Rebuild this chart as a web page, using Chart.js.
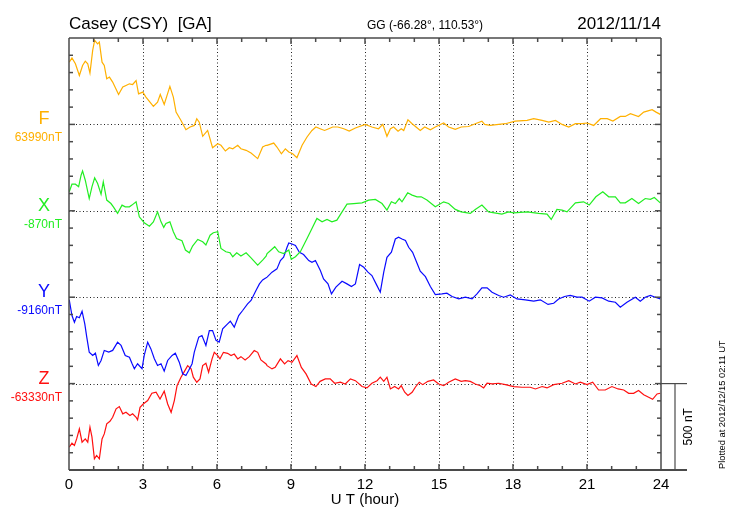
<!DOCTYPE html>
<html lang="en">
<head>
    <meta charset="UTF-8">
    <title>Casey (CSY) magnetogram</title>
    <script src="https://cdn.jsdelivr.net/npm/chart.js"></script>
    <style>
        html, body { margin: 0; padding: 0; background: #fff; }
        #wrap { width: 730px; height: 520px; }
    </style>
</head>
<body>
<div id="wrap"><canvas id="magChart" width="730" height="520"></canvas></div>
<script>
    // components, their offsets on the plot (nT) and the base values
    const components = ["F", "X", "Y", "Z"];
    const baseLabels = ["63990nT", "-870nT", "-9160nT", "-63330nT"];
    const offsets = [2000, 1500, 1000, 500];
    const colors = ["#ffb000", "#22ee22", "#0a0aff", "#ff1010"];
    const hourTicks = [0, 3, 6, 9, 12, 15, 18, 21, 24];

    // deviations from base value (nT) against UT hour
    const fHours = [0.01,0.12,0.26,0.42,0.55,0.66,0.76,0.85,0.96,1.04,1.16,1.23,1.34,1.43,1.53,1.64,1.77,2.01,2.18,2.31,2.45,2.58,2.72,2.82,2.99,3.12,3.42,3.59,3.70,3.86,4.09,4.23,4.34,4.54,4.74,4.91,5.08,5.18,5.28,5.42,5.62,5.82,6.03,6.16,6.34,6.50,6.64,6.84,6.97,7.18,7.38,7.65,7.85,7.99,8.03,8.30,8.43,8.61,8.77,8.91,9.07,9.24,9.45,9.65,9.85,10.01,10.18,10.36,10.53,10.69,10.90,11.14,11.36,11.61,12.01,12.28,12.55,12.72,12.89,13.03,13.16,13.34,13.47,13.57,13.74,13.91,14.07,14.24,14.42,14.65,14.85,15.19,15.39,15.66,15.90,16.20,16.47,16.74,16.85,17.08,17.42,17.69,18.09,18.57,18.84,19.18,19.45,19.72,19.99,20.26,20.53,20.80,21.00,21.27,21.55,21.82,22.05,22.35,22.55,22.76,23.09,23.30,23.64,23.80,23.97];
    const fValues = [360,385,351,283,341,366,351,297,428,486,466,476,360,341,264,274,245,173,216,225,235,231,254,177,187,158,104,129,173,116,220,158,71,23,-31,-15,-6,33,13,-69,-35,-135,-112,-121,-154,-135,-141,-121,-141,-150,-166,-198,-131,-121,-121,-108,-131,-170,-141,-160,-170,-193,-121,-73,-35,-15,-25,-35,-25,-15,-15,-25,-39,-21,0,-15,-25,0,-69,-25,-15,-39,-25,-35,27,4,-15,-35,-15,-31,-15,8,-15,-29,-15,-12,4,19,0,-6,0,4,19,23,33,23,13,23,0,-15,4,4,8,-6,33,33,19,46,46,62,46,71,85,71,58];

    const xHours = [0.01,0.12,0.26,0.39,0.49,0.55,0.66,0.82,0.93,1.04,1.16,1.30,1.39,1.53,1.70,1.80,1.97,2.15,2.28,2.45,2.55,2.72,2.85,3.05,3.26,3.42,3.59,3.73,3.84,3.93,4.09,4.23,4.36,4.58,4.72,4.88,5.01,5.22,5.42,5.55,5.72,5.85,6.03,6.16,6.36,6.53,6.64,6.80,6.97,7.18,7.38,7.65,7.85,7.99,8.03,8.16,8.34,8.50,8.70,8.91,9.01,9.18,9.38,9.65,9.85,10.05,10.26,10.46,10.66,10.86,11.07,11.27,11.54,11.88,12.15,12.42,12.69,12.89,13.07,13.23,13.39,13.50,13.73,13.91,14.11,14.28,14.51,14.85,15.19,15.39,15.66,15.90,16.27,16.47,16.74,17.01,17.55,17.82,18.03,18.57,19.04,19.38,19.55,19.78,19.99,20.19,20.53,20.86,21.09,21.36,21.64,21.88,22.15,22.35,22.55,22.82,23.09,23.36,23.57,23.73,23.97];
    const xValues = [110,154,154,139,206,231,177,71,139,191,158,96,168,62,42,23,-15,33,23,23,33,52,-35,-69,-89,-64,-6,-64,-96,-73,-64,-121,-160,-173,-227,-243,-204,-166,-179,-198,-141,-127,-121,-218,-237,-243,-266,-243,-262,-243,-272,-314,-285,-262,-247,-231,-208,-237,-247,-227,-281,-266,-237,-160,-102,-44,-64,-50,-64,-54,-6,39,42,46,62,66,42,4,52,42,71,52,104,91,81,81,62,23,52,42,8,-6,-15,8,33,-6,-19,-6,-12,-6,-15,-19,-50,8,4,-6,46,52,33,81,110,81,81,46,46,71,42,71,66,77,46];

    const yHours = [0.01,0.12,0.22,0.31,0.42,0.53,0.64,0.72,0.82,0.96,1.07,1.19,1.30,1.43,1.61,1.77,1.97,2.11,2.28,2.45,2.55,2.65,2.78,2.96,3.05,3.19,3.32,3.46,3.59,3.73,3.86,4.00,4.18,4.31,4.47,4.61,4.74,4.85,4.99,5.08,5.26,5.39,5.55,5.69,5.82,5.96,6.09,6.23,6.43,6.54,6.70,6.88,7.04,7.24,7.38,7.58,7.72,7.85,7.99,8.03,8.23,8.43,8.57,8.70,8.84,8.91,9.04,9.18,9.34,9.51,9.72,9.85,9.99,10.19,10.32,10.50,10.64,10.82,11.07,11.27,11.45,11.61,11.78,11.95,12.12,12.28,12.45,12.62,12.76,12.89,13.07,13.23,13.36,13.50,13.64,13.77,13.93,14.11,14.24,14.45,14.65,14.85,15.12,15.32,15.53,15.80,16.07,16.34,16.54,16.74,16.95,17.15,17.42,17.62,17.89,18.16,18.50,18.84,19.11,19.42,19.65,19.85,20.09,20.32,20.59,20.80,21.09,21.34,21.61,21.88,22.15,22.35,22.62,22.96,23.16,23.36,23.57,23.77,23.97];
    const yValues = [-15,-106,-145,-112,-119,-81,-154,-231,-318,-337,-324,-395,-366,-308,-318,-308,-260,-279,-337,-347,-382,-414,-385,-414,-337,-260,-299,-356,-395,-385,-428,-366,-337,-324,-376,-443,-453,-424,-385,-318,-231,-222,-279,-193,-193,-250,-260,-183,-154,-139,-173,-106,-77,-39,-19,39,77,100,112,116,145,164,212,231,289,314,308,299,260,247,212,202,212,154,106,77,19,58,92,77,62,77,189,173,145,125,77,29,145,231,260,337,347,337,328,289,260,197,150,119,62,15,19,23,4,-10,0,-10,19,54,54,29,10,0,13,-10,-15,-23,-15,-42,-35,-10,4,10,0,0,-23,0,-4,-23,-29,-58,-29,0,-23,0,10,0,-10];

    const zHours = [0.01,0.12,0.22,0.31,0.42,0.53,0.66,0.76,0.85,0.93,1.03,1.12,1.23,1.34,1.43,1.53,1.66,1.77,1.91,2.04,2.18,2.31,2.47,2.58,2.72,2.78,2.88,3.01,3.19,3.36,3.53,3.69,3.86,4.00,4.14,4.27,4.38,4.54,4.68,4.81,4.95,5.04,5.18,5.31,5.42,5.55,5.66,5.80,5.89,6.03,6.12,6.26,6.43,6.57,6.70,6.84,6.97,7.14,7.31,7.51,7.65,7.78,7.99,8.03,8.23,8.36,8.57,8.74,8.88,9.04,9.24,9.42,9.61,9.82,10.01,10.18,10.39,10.59,10.77,11.00,11.20,11.41,11.61,11.88,12.08,12.28,12.49,12.62,12.76,12.89,13.03,13.20,13.36,13.47,13.61,13.74,13.91,14.04,14.20,14.34,14.55,14.78,14.99,15.19,15.39,15.66,15.90,16.07,16.27,16.47,16.68,16.81,16.95,17.15,17.42,17.69,18.03,18.36,18.70,18.91,19.18,19.38,19.65,19.99,20.26,20.53,20.73,21.00,21.23,21.47,21.74,22.01,22.26,22.49,22.69,22.89,23.09,23.30,23.50,23.66,23.84,23.97];
    const zValues = [-368,-345,-358,-320,-262,-339,-320,-339,-252,-308,-435,-416,-435,-320,-291,-233,-218,-195,-146,-133,-175,-166,-185,-175,-195,-210,-137,-118,-98,-56,-50,-89,-44,-118,-166,-98,-12,37,71,104,85,37,8,27,104,118,66,143,181,162,143,181,175,162,171,143,156,137,156,191,181,137,114,104,85,94,143,114,133,123,162,94,56,-2,-17,13,27,27,2,8,-2,27,17,-17,-25,2,17,37,13,37,-31,-17,-31,-12,-50,-69,-50,-21,8,-6,13,21,-2,-12,8,27,13,17,13,-2,-12,-25,2,-2,2,-6,-17,-21,-21,-31,-17,-25,-6,2,17,-2,8,-6,8,-37,-37,-17,-31,-37,-56,-56,-40,-64,-79,-91,-60,-56];

    const allHours = [fHours, xHours, yHours, zHours];
    const allValues = [fValues, xValues, yValues, zValues];

    const FONT = "'Liberation Sans', Arial, Helvetica, sans-serif";
    const FRAME = "#4a4a4a";

    const datasets = components.map((name, i) => ({
        label: name,
        data: allHours[i].map((h, k) => ({ x: h, y: offsets[i] + allValues[i][k] })),
        borderColor: colors[i],
        borderWidth: 1.2,
        pointRadius: 0,
        fill: false,
        tension: 0
    }));

    function dotted(ctx, x1, y1, x2, y2) {
        ctx.save();
        ctx.strokeStyle = "#222";
        ctx.lineWidth = 1;
        ctx.setLineDash([1, 2.5]);
        ctx.beginPath();
        ctx.moveTo(x1, y1);
        ctx.lineTo(x2, y2);
        ctx.stroke();
        ctx.restore();
    }

    function line(ctx, x1, y1, x2, y2, w) {
        ctx.beginPath();
        ctx.moveTo(x1, y1);
        ctx.lineTo(x2, y2);
        ctx.lineWidth = w;
        ctx.stroke();
    }

    const framePlugin = {
        id: "frame",
        beforeDatasetsDraw(chart) {
            const ctx = chart.ctx;
            const xs = chart.scales.x, ys = chart.scales.y;
            const a = chart.chartArea;
            // dotted grid
            hourTicks.slice(1, -1).forEach(h => {
                const px = Math.round(xs.getPixelForValue(h)) + 0.5;
                dotted(ctx, px, a.top, px, a.bottom);
            });
            offsets.forEach(o => {
                const py = Math.round(ys.getPixelForValue(o)) + 0.5;
                dotted(ctx, a.left, py, a.right, py);
            });
        },
        afterDraw(chart) {
            const ctx = chart.ctx;
            const xs = chart.scales.x, ys = chart.scales.y;
            const a = chart.chartArea;
            ctx.save();
            ctx.strokeStyle = FRAME;
            // frame
            line(ctx, a.left, a.top, a.right, a.top, 1.5);
            line(ctx, a.left, a.top, a.left, a.bottom, 1.5);
            line(ctx, a.right, a.top, a.right, a.bottom, 1.5);
            line(ctx, a.left, a.bottom, a.right + 26, a.bottom, 2);
            // hour ticks, inward
            for (let h = 1; h < 24; h++) {
                const px = xs.getPixelForValue(h);
                const len = h % 3 === 0 ? 6 : 4;
                line(ctx, px, a.bottom, px, a.bottom - len, 1.5);
                line(ctx, px, a.top, px, a.top + len, 1.5);
            }
            // 100 nT ticks, inward
            for (let v = 100; v < 2500; v += 100) {
                const py = ys.getPixelForValue(v);
                const len = v % 500 === 0 ? 6 : 4;
                line(ctx, a.left, py, a.left + len, py, 1.5);
                line(ctx, a.right, py, a.right - len, py, 1.5);
            }
            // 500 nT scale bar at the right
            const z0 = ys.getPixelForValue(500);
            const barX = a.right + 14;
            line(ctx, a.right, z0, a.right + 26, z0, 1.2);
            line(ctx, barX, z0, barX, ys.getPixelForValue(0), 1.2);
            ctx.restore();

            ctx.save();
            // titles
            ctx.fillStyle = "#000";
            ctx.textBaseline = "alphabetic";
            ctx.font = "17px " + FONT;
            ctx.textAlign = "left";
            ctx.fillText("Casey (CSY)  [GA]", a.left, 29);
            ctx.textAlign = "right";
            ctx.fillText("2012/11/14", a.right, 29);
            ctx.font = "12px " + FONT;
            ctx.textAlign = "left";
            ctx.fillText("GG (-66.28\u00b0, 110.53\u00b0)", 367, 29);

            // axis title
            ctx.font = "15px " + FONT;
            ctx.textAlign = "center";
            ctx.fillText("U T (hour)", (a.left + a.right) / 2, 504);

            // component names and base values
            components.forEach((name, i) => {
                const py = ys.getPixelForValue(offsets[i]);
                ctx.fillStyle = colors[i];
                ctx.textAlign = "center";
                ctx.font = "18px " + FONT;
                ctx.fillText(name, 44, py);
                ctx.textAlign = "right";
                ctx.font = "12px " + FONT;
                ctx.fillText(baseLabels[i], 62, py + 17);
            });

            // rotated texts
            ctx.fillStyle = "#000";
            ctx.save();
            ctx.translate(a.right + 28, (z0 + ys.getPixelForValue(0)) / 2);
            ctx.rotate(-Math.PI / 2);
            ctx.textAlign = "center";
            ctx.textBaseline = "middle";
            ctx.font = "12px " + FONT;
            ctx.fillText("500 nT", 0, 0);
            ctx.restore();

            ctx.save();
            ctx.translate(722, 469);
            ctx.rotate(-Math.PI / 2);
            ctx.textAlign = "left";
            ctx.textBaseline = "middle";
            ctx.font = "9.3px " + FONT;
            ctx.fillText("Plotted at 2012/12/15 02:11 UT", 0, 0);
            ctx.restore();
            ctx.restore();
        }
    };

    new Chart(document.getElementById("magChart"), {
        type: "line",
        data: { datasets: datasets },
        options: {
            responsive: false,
            animation: false,
            events: [],
            layout: { padding: { left: 0, right: 69, top: 38, bottom: 0 } },
            plugins: { legend: { display: false }, tooltip: { enabled: false } },
            scales: {
                x: {
                    type: "linear",
                    min: 0,
                    max: 24,
                    afterFit: s => { s.height = 50; },
                    afterBuildTicks: s => { s.ticks = hourTicks.map(v => ({ value: v })); },
                    grid: { display: false, drawTicks: false },
                    border: { display: false },
                    ticks: {
                        color: "#000",
                        padding: 6,
                        maxRotation: 0,
                        font: { family: FONT, size: 15 }
                    }
                },
                y: {
                    type: "linear",
                    min: 0,
                    max: 2500,
                    afterFit: s => { s.width = 69; },
                    grid: { display: false, drawTicks: false },
                    border: { display: false },
                    ticks: { display: false }
                }
            }
        },
        plugins: [framePlugin]
    });
</script>
</body>
</html>
